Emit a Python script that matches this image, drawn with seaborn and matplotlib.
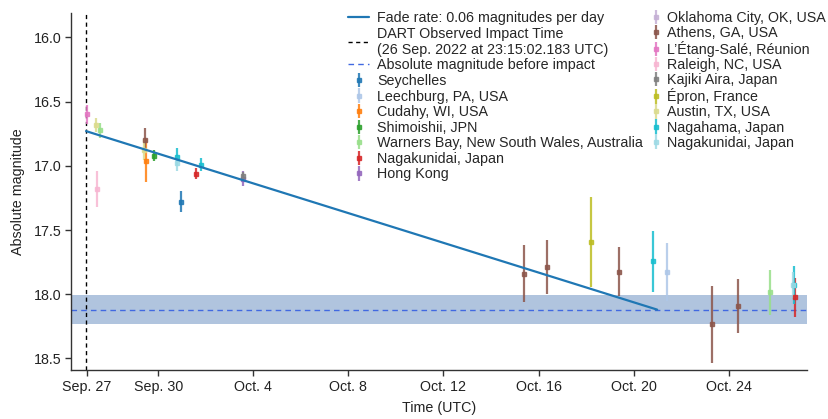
import numpy as np
import pandas as pd
import matplotlib
matplotlib.use("Agg")
import matplotlib.pyplot as plt
import matplotlib.dates as mdates
import seaborn as sns

# ---------------- data ----------------
sites = ["Seychelles", "Leechburg, PA, USA", "Cudahy, WI, USA", "Shimoishii, JPN",
         "Warners Bay, New South Wales, Australia", "Nagakunidai, Japan", "Hong Kong",
         "Oklahoma City, OK, USA", "Athens, GA, USA", "L\u2019\u00c9tang-Sal\u00e9, R\u00e9union",
         "Raleigh, NC, USA", "Kajiki Aira, Japan", "\u00c9pron, France", "Austin, TX, USA",
         "Nagahama, Japan", "Nagakunidai, Japan "]
site_colors = ["#1f77b4", "#aec7e8", "#ff7f0e", "#2ca02c", "#98df8a", "#d62728", "#9467bd",
               "#c5b0d5", "#8c564b", "#e377c2", "#f7b6d2", "#7f7f7f", "#bcbd22", "#dbdb8d",
               "#17becf", "#9edae5"]

obs_site = ["L\u2019\u00c9tang-Sal\u00e9, R\u00e9union", "Austin, TX, USA", "Raleigh, NC, USA",
            "Warners Bay, New South Wales, Australia",
            "Austin, TX, USA", "Athens, GA, USA", "Cudahy, WI, USA", "Shimoishii, JPN",
            "Nagakunidai, Japan ", "Nagahama, Japan", "Seychelles", "Nagakunidai, Japan",
            "Nagahama, Japan", "Hong Kong", "Kajiki Aira, Japan",
            "Athens, GA, USA", "Athens, GA, USA", "\u00c9pron, France", "Athens, GA, USA",
            "Nagahama, Japan", "Leechburg, PA, USA", "Athens, GA, USA", "Athens, GA, USA",
            "Warners Bay, New South Wales, Australia", "Nagakunidai, Japan ", "Nagahama, Japan",
            "Nagakunidai, Japan"]
obs_time = ["2022-09-27 00:15", "2022-09-27 09:20", "2022-09-27 10:05", "2022-09-27 13:25",
            "2022-09-29 09:36", "2022-09-29 10:33", "2022-09-29 11:17", "2022-09-29 19:55",
            "2022-09-30 19:00", "2022-09-30 19:00", "2022-09-30 23:30", "2022-10-01 14:24",
            "2022-10-01 19:12", "2022-10-03 13:12", "2022-10-03 13:12",
            "2022-10-15 09:07", "2022-10-16 08:24", "2022-10-18 04:34", "2022-10-19 09:07",
            "2022-10-20 19:26", "2022-10-21 09:36", "2022-10-23 06:43", "2022-10-24 09:50",
            "2022-10-25 17:31", "2022-10-26 17:20", "2022-10-26 17:46", "2022-10-26 19:00"]
obs_mag = [16.60, 16.68, 17.18, 16.725,
           16.875, 16.80, 16.96, 16.92,
           16.98, 16.935, 17.28, 17.06,
           16.99, 17.10, 17.08,
           17.84, 17.786, 17.59, 17.825,
           17.745, 17.83, 18.235, 18.095,
           17.986, 17.93, 17.93, 18.025]
obs_err = [0.075, 0.056, 0.14, 0.06,
           0.08, 0.095, 0.17, 0.04,
           0.06, 0.07, 0.08, 0.04,
           0.05, 0.06, 0.03,
           0.22, 0.21, 0.35, 0.19,
           0.235, 0.225, 0.30, 0.21,
           0.175, 0.10, 0.15, 0.15]

impact_time = "2022-09-26 23:15:02.183"
fade_times = ["2022-09-26 23:15:02.183", "2022-10-20 23:45:00.000"]
fade_mags = [16.73, 18.12]
pre_mag = 18.12
pre_err = 0.11

xlim_dates = ["2022-09-26 08:00", "2022-10-27 06:45"]
ylim = (18.59, 15.81)
yticks = [16.0, 16.5, 17.0, 17.5, 18.0, 18.5]
xtick_dates = ["2022-09-27", "2022-09-30", "2022-10-04", "2022-10-08",
               "2022-10-12", "2022-10-16", "2022-10-20", "2022-10-24"]
xtick_labels = ["Sep. 27", "Sep. 30", "Oct. 4", "Oct. 8", "Oct. 12", "Oct. 16", "Oct. 20", "Oct. 24"]

# ---------------- plot ----------------
sns.set_theme(style="ticks")
plt.rcParams["font.family"] = ["Liberation Sans", "DejaVu Sans"]

df = pd.DataFrame({"site": obs_site, "time": pd.to_datetime(obs_time, format="ISO8601"),
                   "mag": obs_mag, "err": obs_err})
fade_df = pd.DataFrame({"time": pd.to_datetime(fade_times, format="ISO8601"), "mag": fade_mags})

fig = plt.figure(figsize=(8.29, 4.19), dpi=100)
ax = fig.add_axes([0.0856, 0.117, 0.8875, 0.852])

ax.axhspan(pre_mag - pre_err, pre_mag + pre_err, color="#b0c4de", lw=0, zorder=0)
h_pre = ax.axhline(pre_mag, color="#4169e1", ls=(0, (4, 3)), lw=1.0, zorder=1,
                   label="Absolute magnitude before impact")
h_imp = ax.axvline(pd.to_datetime(impact_time), color="black", ls=(0, (3, 2.5)), lw=1.0,
                   zorder=1, label="DART Observed Impact Time\n(26 Sep. 2022 at 23:15:02.183 UTC)")
sns.lineplot(data=fade_df, x="time", y="mag", ax=ax, color="#1f77b4", lw=1.6, zorder=3,
             label="Fade rate: 0.06 magnitudes per day")
h_fade = ax.get_lines()[-1]

site_handles = []
for s, c in zip(sites, site_colors):
    sub = df[df["site"] == s]
    h = ax.errorbar(sub["time"], sub["mag"], yerr=sub["err"], fmt="s", ms=2.8,
                    color=c, ecolor=c, elinewidth=1.6, capsize=0, alpha=0.85,
                    zorder=2, label=s.strip())
    site_handles.append(h)

ax.set_xlim(pd.to_datetime(xlim_dates[0]), pd.to_datetime(xlim_dates[1]))
ax.set_ylim(*ylim)
ax.set_yticks(yticks)
ax.set_yticklabels([f"{v:.1f}" for v in yticks])
ax.set_xticks(pd.to_datetime(xtick_dates))
ax.set_xticklabels(xtick_labels)
ax.tick_params(axis="both", labelsize=10.3, length=4, width=1, color="#333333",
               labelcolor="#222222", pad=3)
ax.set_xlabel("Time (UTC)", fontsize=10.3, color="#222222", labelpad=5)
ax.set_ylabel("Absolute magnitude", fontsize=10.3, color="#222222", labelpad=6)
for side in ["top", "right"]:
    ax.spines[side].set_visible(False)
for side in ["left", "bottom"]:
    ax.spines[side].set_color("#333333")
    ax.spines[side].set_linewidth(1.0)

if ax.get_legend() is not None:
    ax.get_legend().remove()

col1 = [h_fade, h_imp, h_pre] + site_handles[:7]
col2 = site_handles[7:]
fig.legend(col1, [h.get_label() for h in col1], loc="upper left",
           bbox_to_anchor=(0.4198, 0.9736), ncol=1, frameon=False, fontsize=10.3,
           handlelength=1.5, handletextpad=0.55, labelspacing=0.11,
           borderpad=0.0, borderaxespad=0.0)
fig.legend(col2, [h.get_label() for h in col2], loc="upper left",
           bbox_to_anchor=(0.7826, 0.9736), ncol=1, frameon=False, fontsize=10.3,
           handlelength=1.0, handletextpad=0.27, labelspacing=0.075,
           borderpad=0.0, borderaxespad=0.0)

fig.savefig("out.png", dpi=100)
